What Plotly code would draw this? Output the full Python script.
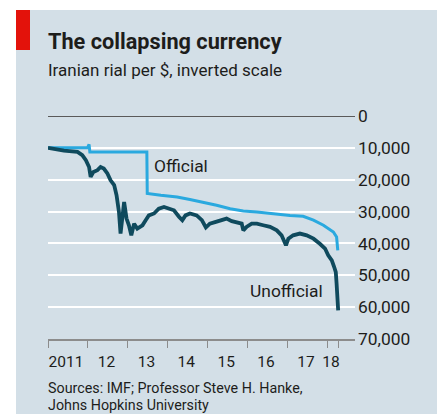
import plotly.graph_objects as go

# ---------------- data ----------------
official_year = [2011.00, 2011.99, 2012.03, 2012.05, 2013.48, 2013.49, 2013.83, 2014.24,
                 2014.56, 2014.90, 2015.23, 2015.57, 2015.90, 2016.24, 2016.74, 2017.07,
                 2017.40, 2017.66, 2017.91, 2018.16, 2018.24, 2018.27]
official_val = [10000, 10000, 8900, 11300, 11300, 24300, 24900, 25400,
                26200, 27000, 28000, 29100, 29800, 30100, 30900, 31200,
                31500, 32700, 34300, 36400, 38000, 42200]

unofficial_year = [2011.00, 2011.40, 2011.74, 2011.86, 2011.95, 2012.03, 2012.07, 2012.14,
                   2012.24, 2012.32, 2012.40, 2012.49, 2012.57, 2012.66, 2012.72, 2012.78,
                   2012.82, 2012.86, 2012.91, 2012.97, 2013.03, 2013.09, 2013.16, 2013.24,
                   2013.37, 2013.45, 2013.53, 2013.66, 2013.78, 2013.91, 2014.04, 2014.16,
                   2014.29, 2014.37, 2014.45, 2014.56, 2014.73, 2014.86, 2014.96, 2015.06,
                   2015.19, 2015.32, 2015.48, 2015.61, 2015.73, 2015.86, 2015.90, 2015.98,
                   2016.11, 2016.24, 2016.40, 2016.57, 2016.74, 2016.86, 2016.97, 2017.03,
                   2017.15, 2017.32, 2017.49, 2017.66, 2017.82, 2017.95, 2018.03, 2018.12,
                   2018.18, 2018.22, 2018.24, 2018.27, 2018.28]
unofficial_val = [10000, 10900, 11250, 12300, 13900, 16000, 19100, 17550,
                  17000, 16000, 16500, 18050, 20200, 21700, 24900, 30100,
                  36900, 31200, 27000, 32200, 34300, 37450, 33800, 35350,
                  34300, 32700, 31200, 30600, 29100, 28550, 29100, 29600,
                  31700, 32700, 31200, 30600, 31200, 32700, 35000, 33800,
                  33300, 32700, 32200, 33000, 33300, 33800, 35900, 34800,
                  33800, 33800, 34300, 34800, 35900, 37450, 40600, 38500,
                  37450, 36900, 37450, 38500, 40100, 41600, 43700, 45300,
                  47400, 49000, 52600, 57900, 61000]

y_ticks = [0, 10000, 20000, 30000, 40000, 50000, 60000, 70000]
y_labels = ["0", "10,000", "20,000", "30,000", "40,000", "50,000", "60,000", "70,000"]

x_tick_marks = [2011, 2012, 2013, 2014, 2015, 2016, 2017, 2018, 2018.29]
x_label_pos = [2011.45, 2012.47, 2013.47, 2014.47, 2015.47, 2016.47, 2017.47, 2018.10]
x_labels = ["2011", "12", "13", "14", "15", "16", "17", "18"]

title = "The collapsing currency"
subtitle = "Iranian rial per $, inverted scale"
source_lines = ["Sources: IMF; Professor Steve H. Hanke,", "Johns Hopkins University"]

# ---------------- layout geometry (page pixels; page body has an 8px margin) ----------------
OFF = 8
W, H = 445 - OFF, 414 - OFF
ML, MR, MT, MB = 48 - OFF, 90, 116 - OFF, 75
PW, PH = W - ML - MR, H - MT - MB


def px(xp):
    return (xp - OFF - ML) / PW


def py(yp):
    return (H - MB - (yp - OFF)) / PH


FONT = "Roboto"
TXT = "#1d1d1b"
PANEL = "#d3dfe7"

fig = go.Figure()
fig.add_trace(go.Scatter(x=official_year, y=official_val, mode="lines",
                         line=dict(color="#2aa9df", width=3), hoverinfo="skip"))
fig.add_trace(go.Scatter(x=unofficial_year, y=unofficial_val, mode="lines",
                         line=dict(color="#0f4a5d", width=3.8), hoverinfo="skip"))

fig.update_layout(
    width=W, height=H,
    margin=dict(l=ML, r=MR, t=MT, b=MB),
    paper_bgcolor="white",
    plot_bgcolor="rgba(0,0,0,0)",
    showlegend=False,
    font=dict(family=FONT, color=TXT),
    shapes=[
        dict(type="rect", xref="paper", yref="paper", x0=px(16), x1=px(441),
             y0=py(414), y1=py(10), fillcolor=PANEL, line=dict(width=0), layer="below"),
        dict(type="rect", xref="paper", yref="paper", x0=px(16), x1=px(30),
             y0=py(50), y1=py(10), fillcolor="#e3120b", line=dict(width=0), layer="below"),
    ],
)

fig.update_xaxes(
    range=[2011.0, 2011.0 + PW / 39.86],
    tickmode="array", tickvals=x_label_pos, ticktext=x_labels, ticks="",
    tickfont=dict(size=15.5, color=TXT, family=FONT),
    ticklabelstandoff=8,
    showgrid=False, zeroline=False,
    showline=True, linecolor="#8c8c8c", linewidth=1.5,
    minor=dict(tickmode="array", tickvals=x_tick_marks, ticks="outside",
               ticklen=7, tickwidth=1.3, tickcolor="#8c8c8c", showgrid=False),
)
fig.update_yaxes(
    range=[70000, 0], side="right",
    tickmode="array", tickvals=y_ticks, ticktext=y_labels, ticks="",
    tickfont=dict(size=17.4, color=TXT, family=FONT),
    showgrid=True, gridcolor="white", gridwidth=2,
    zeroline=True, zerolinecolor="#5a5a5a", zerolinewidth=1.2,
    showline=False, ticklabelstandoff=2,
)

ann = [
    dict(text="<b>" + title + "</b>", x=px(46), y=py(42), xanchor="left", yanchor="middle",
         font=dict(size=21.7, color=TXT)),
    dict(text=subtitle, x=px(46), y=py(70), xanchor="left", yanchor="middle",
         font=dict(size=17, color=TXT)),
    dict(text=source_lines[0], x=px(46), y=py(388), xanchor="left", yanchor="middle",
         font=dict(size=14.3, color=TXT)),
    dict(text=source_lines[1], x=px(46), y=py(405), xanchor="left", yanchor="middle",
         font=dict(size=14.3, color=TXT)),
]
for a in ann:
    a.update(xref="paper", yref="paper", showarrow=False)
fig.update_layout(annotations=ann)

fig.add_annotation(text="Official", x=2013.62, y=15800, xref="x", yref="y",
                   xanchor="left", yanchor="middle", showarrow=False,
                   font=dict(size=17.4, color=TXT))
fig.add_annotation(text="Unofficial", x=2017.96, y=54800, xref="x", yref="y",
                   xanchor="right", yanchor="middle", showarrow=False,
                   font=dict(size=17.4, color=TXT))

fig.write_html("out.html")
